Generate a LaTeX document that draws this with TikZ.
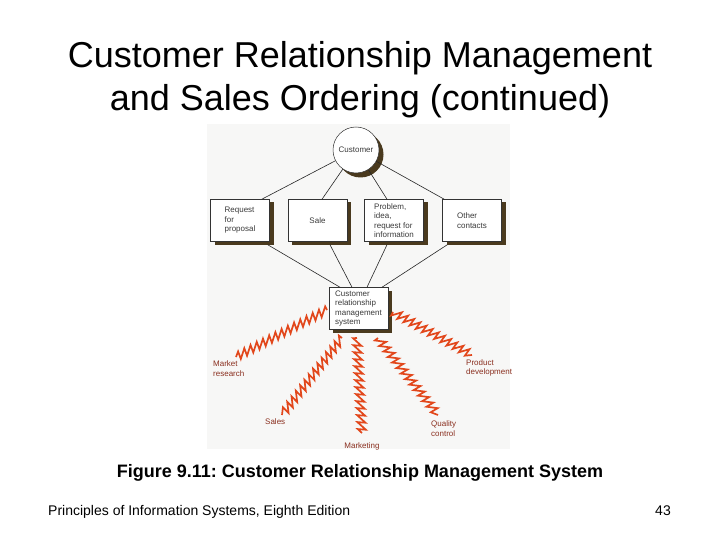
\documentclass[tikz,border=0pt]{standalone}
\usepackage{fontspec}
\setmainfont{Liberation Sans}
\usetikzlibrary{decorations,shadows}
\frenchspacing
\definecolor{panelbg}{HTML}{F7F7F6}
\definecolor{shadowc}{HTML}{4A3A1E}
\definecolor{boltc}{HTML}{E2471B}
\definecolor{labelc}{HTML}{8A2F1F}
\definecolor{boxtext}{HTML}{3A3A3A}
\pgfdeclaredecoration{sawbolt}{first}{
  \state{first}[width=0pt,next state=tooth]{
    \pgfpathlineto{\pgfpoint{0pt}{-1\pgfdecorationsegmentamplitude}}
  }
  \state{tooth}[width=\pgfdecorationsegmentlength]{
    \pgfpathlineto{\pgfpoint{1.15\pgfdecorationsegmentlength}{1\pgfdecorationsegmentamplitude}}
    \pgfpathlineto{\pgfpoint{1\pgfdecorationsegmentlength}{-1\pgfdecorationsegmentamplitude}}
  }
  \state{final}{\pgfpathlineto{\pgfpointdecoratedpathlast}}
}
\tikzset{
  dshadow/.style={drop shadow={shadow xshift=4pt,shadow yshift=-3pt,fill=shadowc,opacity=1}},
  cshadow/.style={drop shadow={shadow xshift=4.5pt,shadow yshift=-4.5pt,fill=shadowc,opacity=1}},
  smallbox/.style={draw=black!80,line width=0.5pt,fill=white,minimum width=59pt,minimum height=42pt,
    align=left,inner sep=0pt,font=\fontsize{8}{9.5}\selectfont,text=boxtext,dshadow},
  custcircle/.style={circle,draw=black!80,line width=0.5pt,fill=white,minimum size=46pt,inner sep=0pt,
    font=\fontsize{8}{9.5}\selectfont,text=boxtext,cshadow},
  link/.style={draw=black!85,line width=0.6pt},
  bolt/.style={draw=boltc,line width=1.7pt,line join=miter,decorate,decoration={sawbolt,segment length=7pt,amplitude=4pt}},
  blabel/.style={font=\fontsize{8}{9.5}\selectfont,text=labelc,align=left,inner sep=0pt},
  titletext/.style={font=\fontsize{36}{43}\selectfont,inner sep=0pt,anchor=base},
}
\begin{document}
\begin{tikzpicture}[x=1pt,y=-1pt]
\useasboundingbox (0,0) rectangle (720,540);
\fill[white] (0,0) rectangle (720,540);
\fill[panelbg] (207,124) rectangle (510,449);

% title
\node[titletext] (t1) at (360,68) {Customer Relationship Management};
\node[titletext] (t2) at (360,111) {and Sales Ordering (continued)};

% diagram nodes
\node[custcircle] (cust) at (356,150) {Customer};
\node[smallbox] (b1) at (240,220.5) {Request\\for\\proposal};
\node[smallbox] (b2) at (317.5,220.5) {Sale};
\node[smallbox] (b3) at (394,220.5) {Problem,\\idea,\\request for\\information};
\node[smallbox] (b4) at (472,220.5) {Other\\contacts};
\node[smallbox] (crm) at (358.5,308.5) {Customer\\relationship\\management\\system};

% links
\draw[link] (cust) -- ([xshift=-8pt]b1.north east);
\draw[link] (cust) -- ([xshift=4.5pt]b2.north);
\draw[link] (cust) -- ([xshift=-7pt]b3.north);
\draw[link] (cust) -- ([xshift=2pt]b4.north west);
\draw[link] ([xshift=-2pt,yshift=-3pt]b1.south east) -- ([xshift=-18.5pt]crm.north);
\draw[link] ([xshift=12.5pt,yshift=-3pt]b2.south) -- ([xshift=-6.5pt]crm.north);
\draw[link] ([xshift=-7pt,yshift=-3pt]b3.south) -- ([xshift=8.5pt]crm.north);
\draw[link] ([xshift=5pt,yshift=-3pt]b4.south west) -- ([xshift=23.5pt]crm.north);

% bolt labels
\node[blabel,anchor=west] (l1) at (213,368.5) {Market\\research};
\node[blabel,anchor=west] (l2) at (265,422) {Sales};
\node[blabel] (l3) at (362,446) {Marketing};
\node[blabel,anchor=west] (l4) at (431,428.5) {Quality\\control};
\node[blabel,anchor=west] (l5) at (466,368) {Product\\development};

% bolt ends
\coordinate (s1) at (327,310);
\coordinate (e1) at (236,357);
\coordinate (s2) at (342,338);
\coordinate (e2) at (282,415);
\coordinate (s3) at (357,338);
\coordinate (e3) at (362,433);
\coordinate (s4) at (378,338);
\coordinate (e4) at (438,415);
\coordinate (s5) at (393,312);
\coordinate (e5) at (472,355);
\draw[bolt] (s1) -- (e1);
\draw[bolt] (s2) -- (e2);
\draw[bolt] (s3) -- (e3);
\draw[bolt] (s4) -- (e4);
\draw[bolt] (s5) -- (e5);

% caption and footer
\node[font=\fontsize{18}{21}\selectfont\bfseries,inner sep=0pt,anchor=base] (cap) at (360,477) {Figure 9.11: Customer Relationship Management System};
\node[font=\fontsize{14}{17}\selectfont,inner sep=0pt,anchor=base west] (foot) at (48,515) {Principles of Information Systems, Eighth Edition};
\node[font=\fontsize{14}{17}\selectfont,inner sep=0pt,anchor=base east] (pg) at (671,515) {43};
\end{tikzpicture}
\end{document}
